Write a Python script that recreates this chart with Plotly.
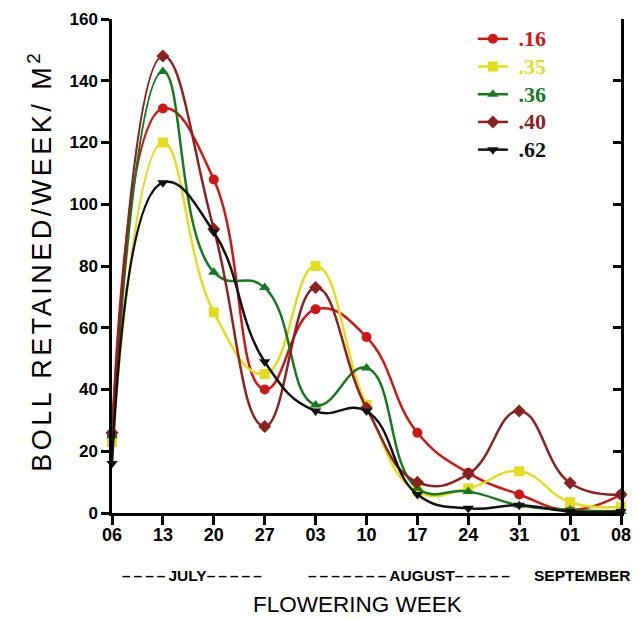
import plotly.graph_objects as go

weeks = ["06", "13", "20", "27", "03", "10", "17", "24", "31", "01", "08"]
series_names = [".16", ".35", ".36", ".40", ".62"]
vals_16 = [25, 131, 108, 40, 66, 57, 26, 13, 6, 1, 6]
vals_35 = [23, 120, 65, 45, 80, 35, 7, 8, 13.5, 3.5, 2]
vals_36 = [25, 143, 78, 73, 35, 47, 8, 7, 2.5, 1, 0.5]
vals_40 = [26, 148, 92, 28, 73, 34, 10, 12.6, 33, 9.7, 6]
vals_62 = [16, 107, 91, 49, 33, 33, 6, 1.5, 2.5, 0.5, 0.5]
y_ticks = [0, 20, 40, 60, 80, 100, 120, 140, 160]
# month labels: (dashes before, word, dashes after)
month_parts = [("----", "JULY", "-----"), ("-------", "AUGUST", "-----"), ("", "SEPTEMBER", "")]

colors = ["#d01515", "#e3dc1c", "#157a1e", "#8a2222", "#111111"]
symbols = ["circle", "square", "triangle-up", "diamond", "triangle-down"]
all_vals = [vals_16, vals_35, vals_36, vals_40, vals_62]

x_idx = list(range(len(weeks)))

fig = go.Figure()
for name, vals, c, s in zip(series_names, all_vals, colors, symbols):
    fig.add_trace(go.Scatter(
        x=x_idx, y=vals,
        name=f"<b><span style='color:{c};font-size:22px'> {name}</span></b>",
        mode="lines+markers",
        line=dict(color=c, width=2.5, shape="spline", smoothing=1.3),
        marker=dict(color=c, symbol=s, size=10),
        cliponaxis=False,
    ))

# invisible trace on the right axis (mirror axis with inward ticks)
fig.add_trace(go.Scatter(x=[0], y=[0], yaxis="y2", showlegend=False,
                         mode="markers", marker=dict(opacity=0), hoverinfo="skip"))

fig.update_layout(
    width=639, height=619,
    margin=dict(l=112, r=18, t=19, b=106),
    plot_bgcolor="white", paper_bgcolor="white",
    showlegend=True,
    legend=dict(x=0.709, y=0.998, xanchor="left", yanchor="top",
                bgcolor="rgba(0,0,0,0)", borderwidth=0,
                font=dict(family="Liberation Serif", size=19, color="black"),
                tracegroupgap=0),
    xaxis=dict(
        range=[0, 10], tickmode="array", tickvals=x_idx, ticktext=weeks,
        showgrid=False, zeroline=False, showline=True, linecolor="black", linewidth=2.5,
        ticks="outside", ticklen=9, tickwidth=2.5, tickcolor="black", automargin=False,
        ticklabelstandoff=-5,
        tickfont=dict(family="Liberation Sans", size=18, color="black", weight="bold"),
    ),
    yaxis=dict(
        range=[0, 160], tickmode="array", tickvals=y_ticks,
        showgrid=False, zeroline=False, showline=True, linecolor="black", linewidth=2.5,
        ticks="outside", ticklen=8, tickwidth=2.5, tickcolor="black", automargin=False,
        tickfont=dict(family="Liberation Sans", size=17, color="black", weight="bold"),
    ),
    yaxis2=dict(
        range=[0, 160], overlaying="y", side="right", tickmode="array", tickvals=y_ticks,
        showgrid=False, zeroline=False, showline=True, linecolor="black", linewidth=2.5,
        ticks="inside", ticklen=8, tickwidth=2.5, tickcolor="black", showticklabels=False,
        automargin=False,
    ),
)

dash_style = "letter-spacing:3px"
month_pos = [0.161, 0.587, 1.022]
month_anchor = ["center", "center", "right"]
for (pre, word, post), xp, xa in zip(month_parts, month_pos, month_anchor):
    txt = ""
    if pre:
        txt += f"<span style='{dash_style}'>{pre.replace('-', '–')}</span>"
    txt += word
    if post:
        txt += f"<span style='{dash_style}'>{post.replace('-', '–')}</span>"
    fig.add_annotation(x=xp, y=-0.127, xref="paper", yref="paper", text=f"<b>{txt}</b>",
                       xanchor=xa, yanchor="middle", showarrow=False,
                       font=dict(family="Liberation Sans", size=15.5, color="black"))

fig.add_annotation(x=0.483, y=-0.186, xref="paper", yref="paper", text="FLOWERING WEEK",
                   xanchor="center", yanchor="middle", showarrow=False,
                   font=dict(family="Liberation Sans", size=22.5, color="black"))

fig.add_annotation(x=-0.142, y=0.51, xref="paper", yref="paper",
                   text="<span style='letter-spacing:3.5px'>BOLL RETAINED/WEEK/ M<sup>2</sup></span>",
                   textangle=-90, xanchor="center", yanchor="middle", showarrow=False,
                   font=dict(family="Liberation Sans", size=27, color="black"))

fig.write_html("out.html", post_script="document.body.style.margin='0px';",
               config={"displayModeBar": False})
